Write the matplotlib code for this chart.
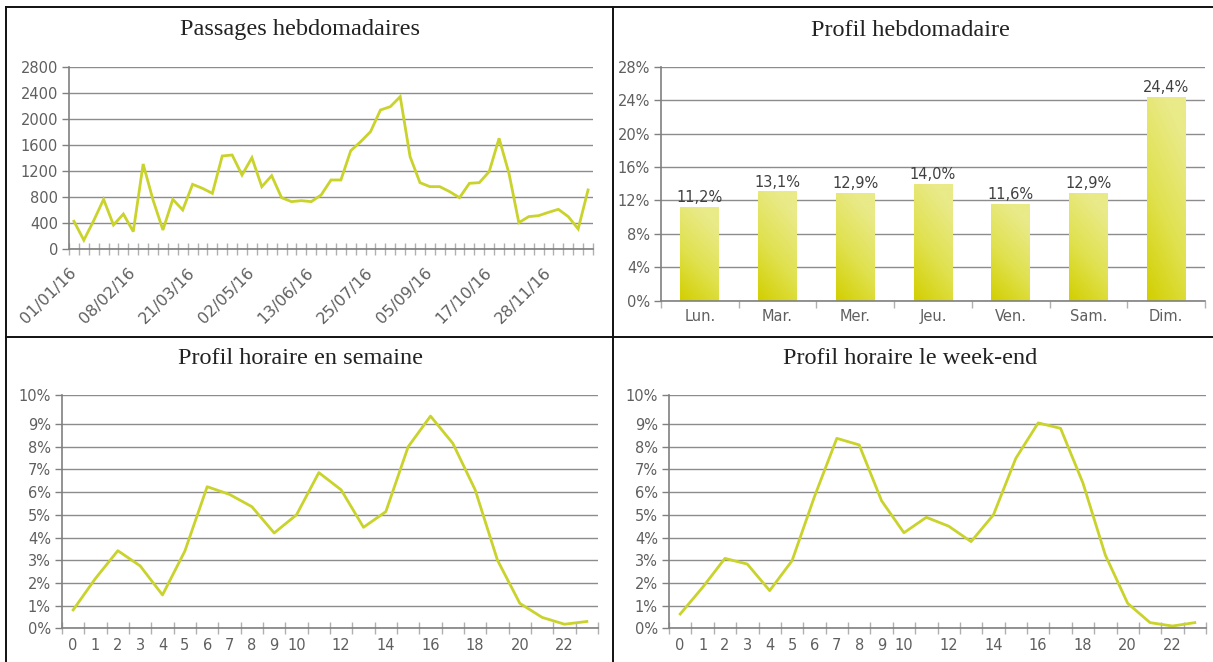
import numpy as np
import matplotlib
matplotlib.use('Agg')
import matplotlib.pyplot as plt
from matplotlib.lines import Line2D
from matplotlib.colors import LinearSegmentedColormap

W, H = 1213, 662

# Passages hebdomadaires (01/01/16 puis chaque lundi)
weekly_counts = [430, 140, 440, 766, 373, 541, 271, 1308, 756, 296, 766, 603,
                 996, 935, 858, 1431, 1446, 1139, 1405, 960, 1129, 792, 731, 746,
                 731, 833, 1063, 1063, 1513, 1650, 1804, 2136, 2187, 2340, 1420, 1022,
                 961, 961, 884, 792, 1012, 1022, 1191, 1702, 1165, 409, 501, 516,
                 567, 613, 501, 312, 910]
date_labels = ['01/01/16', '08/02/16', '21/03/16', '02/05/16', '13/06/16',
               '25/07/16', '05/09/16', '17/10/16', '28/11/16']
date_label_step = 6

# Profil hebdomadaire
days = ['Lun.', 'Mar.', 'Mer.', 'Jeu.', 'Ven.', 'Sam.', 'Dim.']
day_share = [11.2, 13.1, 12.9, 14.0, 11.6, 12.9, 24.4]

# Profils horaires (%)
hours = list(range(24))
hour_labels = ['0', '1', '2', '3', '4', '5', '6', '7', '8', '9', '10', '', '12', '',
               '14', '', '16', '', '18', '', '20', '', '22', '']
weekday_hourly = [0.81, 2.2, 3.42, 2.75, 1.47, 3.4, 6.24, 5.9, 5.36, 4.2, 5.0, 6.86,
                  6.1, 4.45, 5.14, 8.0, 9.35, 8.15, 6.1, 3.0, 1.1, 0.48, 0.18, 0.3]
weekend_hourly = [0.63, 1.8, 3.08, 2.83, 1.66, 2.98, 5.8, 8.37, 8.08, 5.62, 4.21, 4.89,
                  4.5, 3.82, 5.0, 7.49, 9.05, 8.81, 6.4, 3.23, 1.1, 0.25, 0.1, 0.25]

LINE = '#c9d32c'
GRID = '#8c8c8c'
AXIS = '#808080'
TXT = '#5f5f5f'
TICK_FONT = 'DejaVu Sans'
TITLE_FONT = 'Liberation Serif'

fig = plt.figure(figsize=(W / 100, H / 100), dpi=100)
fig.patch.set_facecolor('white')


def px_axes(x0, y0, x1, y1):
    return fig.add_axes([x0 / W, 1 - y1 / H, (x1 - x0) / W, (y1 - y0) / H])


def base_style(ax):
    for s in ('top', 'right'):
        ax.spines[s].set_visible(False)
    for s in ('left', 'bottom'):
        ax.spines[s].set_color(AXIS)
        ax.spines[s].set_linewidth(1.2)
    ax.set_axisbelow(True)
    ax.yaxis.grid(True, color=GRID, linewidth=1.0)
    ax.tick_params(axis='y', colors=AXIS, labelcolor=TXT, labelsize=10.5,
                   length=5, width=1, pad=3)
    ax.tick_params(axis='x', which='major', colors='#b0b0b0', direction='inout',
                   length=8, width=1, labelbottom=False)
    ax.tick_params(axis='x', which='minor', length=0, labelcolor=TXT, labelsize=10.5)
    for lab in ax.get_yticklabels():
        lab.set_family(TICK_FONT)


def title(x, y, text):
    fig.text(x / W, 1 - y / H, text, ha='center', va='center',
             family=TITLE_FONT, fontsize=17.5, color='#222222')


# ---- Passages hebdomadaires
ax1 = px_axes(69, 66.7, 593, 249.3)
x1 = np.arange(len(weekly_counts))
ax1.plot(x1, weekly_counts, color=LINE, lw=2.0, solid_joinstyle='miter')
ax1.set_xlim(-0.5, len(weekly_counts) - 0.5)
ax1.set_ylim(0, 2800)
ax1.set_yticks(range(0, 2801, 400))
ax1.set_xticks(np.arange(-0.5, len(weekly_counts) + 0.5, 1))
ax1.set_xticks(x1[::date_label_step], minor=True)
ax1.set_xticklabels(date_labels, minor=True, rotation=45, ha='right',
                    va='center', rotation_mode='anchor')
base_style(ax1)
ax1.tick_params(axis='x', which='minor', pad=15, labelsize=11.5)
title(300, 30, 'Passages hebdomadaires')

# ---- Profil hebdomadaire
ax2 = px_axes(661, 66.7, 1205, 300.7)
xd = np.arange(len(days))
bars = ax2.bar(xd, day_share, width=0.5, color='none', edgecolor='none')
cmap = LinearSegmentedColormap.from_list('bar', ['#d2cf00', '#e0e14e', '#e9ea88'])
gy, gx = np.mgrid[0:1:200j, 0:1:40j]
grad = np.clip(0.85 * gy + 0.35 * gx, 0, 1)
for b in bars:
    bx, by = b.get_x(), b.get_y()
    im = ax2.imshow(grad, cmap=cmap, origin='lower', aspect='auto',
                    extent=(bx, bx + b.get_width(), by, by + b.get_height()),
                    interpolation='bilinear', zorder=2)
    im.set_clip_path(b)
for xi, v in zip(xd, day_share):
    ax2.text(xi, v + 0.2, f'{v:.1f}%'.replace('.', ','), ha='center', va='bottom',
             fontsize=10.5, color='#404040', family=TICK_FONT, zorder=3)
ax2.set_xlim(-0.5, len(days) - 0.5)
ax2.set_ylim(0, 28)
ax2.set_yticks(range(0, 29, 4))
ax2.set_yticklabels([f'{v}%' for v in range(0, 29, 4)])
ax2.set_xticks(np.arange(-0.5, len(days) + 0.5, 1))
ax2.set_xticks(xd, minor=True)
ax2.set_xticklabels(days, minor=True)
base_style(ax2)
ax2.tick_params(axis='x', which='major', direction='out', length=5)
ax2.tick_params(axis='x', which='minor', pad=6)
title(910, 30, 'Profil hebdomadaire')


# ---- Profils horaires
def hourly(ax, values):
    ax.plot(hours, values, color=LINE, lw=2.0)
    ax.set_xlim(-0.5, 23.5)
    top = 10.28
    ax.set_ylim(0, top)
    ax.set_yticks(list(range(10)) + [top])
    ax.set_yticklabels([f'{v}%' for v in range(11)])
    ax.set_xticks(np.arange(-0.5, 24, 1))
    ax.set_xticks(hours, minor=True)
    ax.set_xticklabels(hour_labels, minor=True)
    base_style(ax)
    ax.tick_params(axis='x', which='minor', pad=7)


ax3 = px_axes(62, 395, 598, 628.3)
hourly(ax3, weekday_hourly)
title(300, 358, 'Profil horaire en semaine')

ax4 = px_axes(669, 395, 1206, 628.3)
hourly(ax4, weekend_hourly)
title(910, 358, 'Profil horaire le week-end')

for ax in (ax1, ax2, ax3, ax4):
    for lab in ax.get_xticklabels(minor=True):
        lab.set_family(TICK_FONT)

# cadres des panneaux
border = dict(color='#111111', lw=1.4, transform=fig.transFigure)
fig.add_artist(Line2D([6 / W, 6 / W], [0, 1 - 7 / H], **border))
fig.add_artist(Line2D([6 / W, 1], [1 - 7 / H, 1 - 7 / H], **border))
fig.add_artist(Line2D([613 / W, 613 / W], [0, 1 - 7 / H], **border))
fig.add_artist(Line2D([6 / W, 1], [1 - 337 / H, 1 - 337 / H], **border))

fig.savefig('out.png', dpi=100, facecolor='white')
